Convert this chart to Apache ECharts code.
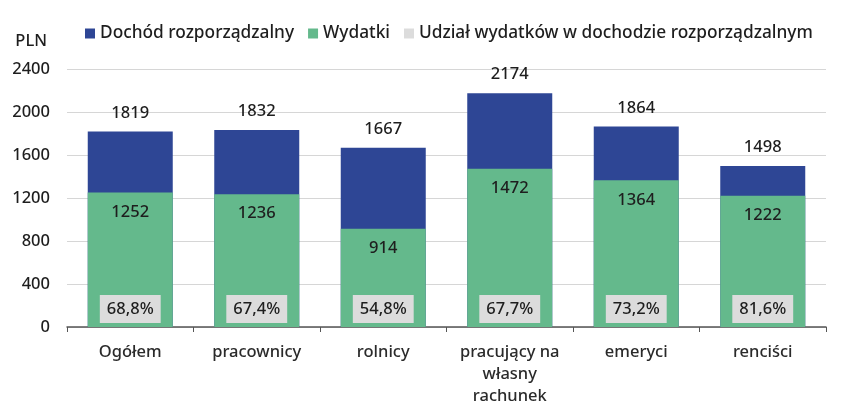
<!DOCTYPE html>
<html><head><meta charset="utf-8">
<script src="https://cdn.jsdelivr.net/npm/echarts@6/dist/echarts.min.js"></script>
<style>html,body{margin:0;padding:0;background:#fff}#c{width:852px;height:411px}</style>
</head><body><div id="c"></div>
<script>
const categories = ['Ogółem','pracownicy','rolnicy','pracujący na\nwłasny\nrachunek','emeryci','renciści'];
const income = [1819,1832,1667,2174,1864,1498];
const expenses = [1252,1236,914,1472,1364,1222];
const share = [68.8,67.4,54.8,67.7,73.2,81.6];
const yTicks = [0,400,800,1200,1600,2000,2400];

const FONT = 'Noto Sans';
const FS = 16.5;
const FW = 500;
const TXT = '#1e1e1e';
const chart = echarts.init(document.getElementById('c'));
chart.setOption({
  animation:false,
  textStyle:{fontFamily:FONT},
  legend:{
    left:80, top:20, itemWidth:10, itemHeight:10, itemGap:14,
    textStyle:{fontSize:17.3,color:TXT,fontFamily:FONT,fontWeight:FW},
    data:[
      {name:'Dochód rozporządzalny', icon:'rect'},
      {name:'Wydatki', icon:'rect'},
      {name:'Udział wydatków w dochodzie rozporządzalnym', icon:'rect', itemStyle:{color:'#dcdcdc'}}
    ]
  },
  grid:{left:67,right:26,top:69,bottom:84,containLabel:false},
  xAxis:{
    type:'category', data:categories,
    axisLine:{lineStyle:{color:'#555',width:1.5}},
    axisTick:{show:true,interval:0,length:5,lineStyle:{color:'#555'}},
    axisLabel:{interval:0,fontSize:FS,color:'#2a2a2a',margin:14,lineHeight:22,fontFamily:FONT,fontWeight:FW}
  },
  yAxis:{
    type:'value', min:0, max:2400, interval:400,
    name:'PLN', nameLocation:'end', nameGap:19,
    nameTextStyle:{fontSize:FS,color:TXT,align:'right',padding:[0,20,0,0],fontFamily:FONT,fontWeight:FW},
    axisLine:{show:false}, axisTick:{show:false},
    axisLabel:{fontSize:FS,color:TXT,margin:17,fontFamily:FONT,fontWeight:FW,
      formatter:v=>yTicks.includes(v)?String(v):''},
    splitLine:{lineStyle:{color:'#d6d6d6',width:1.2}}
  },
  series:[
    {name:'Dochód rozporządzalny', type:'bar', data:income, barWidth:85,
     itemStyle:{color:'#2e4695'},
     label:{show:true,position:'top',distance:10,fontSize:FS,color:TXT,fontFamily:FONT,fontWeight:FW}},
    {name:'Wydatki', type:'bar', data:expenses, barWidth:85, barGap:'-100%',
     itemStyle:{color:'#64b98c'},
     label:{show:true,position:'insideTop',distance:11,fontSize:FS,color:TXT,fontFamily:FONT,fontWeight:FW}},
    {name:'Udział wydatków w dochodzie rozporządzalnym', type:'bar', data:expenses, barWidth:85, barGap:'-100%',
     itemStyle:{color:'rgba(0,0,0,0)'}, z:5,
     label:{show:true,position:'insideBottom',distance:4,fontSize:FS,color:TXT,fontFamily:FONT,fontWeight:FW,
       backgroundColor:'#dcdcdc',padding:[6,7,5,7],
       formatter:p=>share[p.dataIndex].toFixed(1).replace('.',',')+'%'}}
  ]
});
</script></body></html>
